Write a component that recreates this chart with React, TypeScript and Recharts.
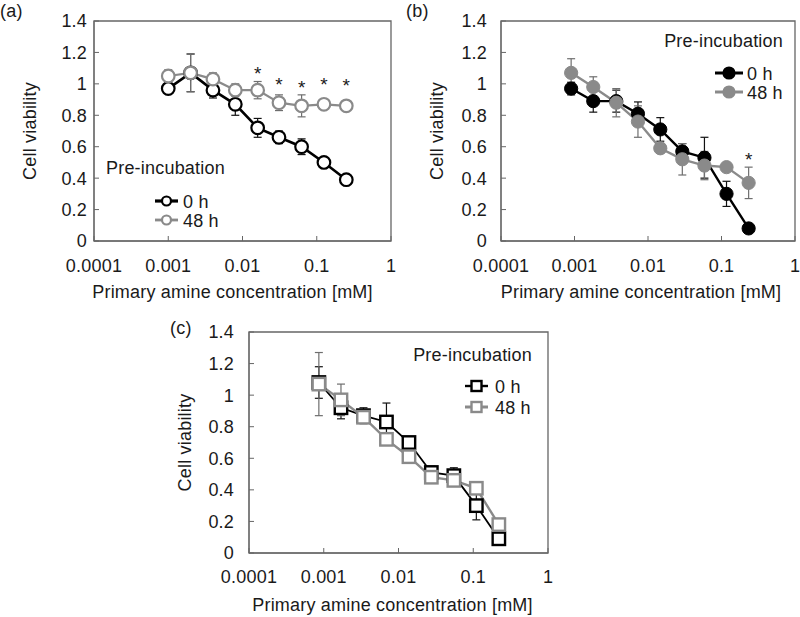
import { LineChart, Line, XAxis, YAxis, ErrorBar, ReferenceArea, Label, Legend } from 'recharts';

// concentrations [mM] for each panel (2-fold dilution series)
const concA = [0.001, 0.002, 0.004, 0.008, 0.016, 0.031, 0.0625, 0.125, 0.25];
const concB = [0.0009, 0.0018, 0.0037, 0.0073, 0.0147, 0.0293, 0.0586, 0.117, 0.234];
const concC = [0.00086, 0.0017, 0.0034, 0.0069, 0.0138, 0.0275, 0.055, 0.11, 0.22];

// (a) open circles
const a0 = [0.97, 1.07, 0.96, 0.87, 0.72, 0.66, 0.6, 0.5, 0.39];
const a0Err = [0.03, 0.12, 0.05, 0.07, 0.06, 0.04, 0.05, 0.01, 0.01];
const a48 = [1.05, 1.07, 1.03, 0.96, 0.96, 0.88, 0.86, 0.87, 0.86];
const a48Err = [0.04, 0.12, 0.04, 0.04, 0.055, 0.05, 0.07, 0.01, 0.03];
const aStars = [null, null, null, null, 1.09, 1.02, 1.0, 1.02, 1.01];

// (b) filled circles
const b0 = [0.97, 0.89, 0.89, 0.81, 0.71, 0.57, 0.53, 0.3, 0.08];
const b0Err = [0.04, 0.07, 0.07, 0.075, 0.075, 0.05, 0.13, 0.08, 0.01];
const b48 = [1.07, 0.98, 0.88, 0.76, 0.59, 0.52, 0.48, 0.47, 0.37];
const b48Err = [0.09, 0.065, 0.09, 0.1, 0.03, 0.1, 0.09, 0.01, 0.1];
const bStars = [null, null, null, null, null, null, null, null, 0.54];

// (c) open squares
const c0 = [1.08, 0.92, 0.87, 0.83, 0.7, 0.51, 0.49, 0.3, 0.09];
const c0Err = [0.1, 0.07, 0.05, 0.12, 0.02, 0.04, 0.05, 0.09, 0.01];
const c48 = [1.07, 0.97, 0.86, 0.72, 0.61, 0.48, 0.46, 0.41, 0.18];
const c48Err = [0.2, 0.1, 0.04, 0.02, 0.02, 0.02, 0.02, 0.02, 0.02];
const cStars = [null, null, null, null, null, null, null, null, null];

const xTicks = [0.0001, 0.001, 0.01, 0.1, 1];
const yTicks = [0, 0.2, 0.4, 0.6, 0.8, 1, 1.2, 1.4];
const seriesNames = ['0 h', '48 h'];

const FONT = '"Liberation Sans", Arial, Helvetica, sans-serif';
const FS = 18;
const LS = 0.2;
const BLACK = '#000000';
const GRAY = '#8a8a8a';
const TEXT = '#1a1a1a';
const AXIS = '#666666';

const marker = (kind: string, color: string, size: number, sw: number) => (props: any) => {
  const { cx, cy, index } = props;
  if (cx == null || cy == null) return <g key={`m-${index}`} />;
  if (kind === 'square') {
    return (
      <rect key={`m-${index}`} x={cx - size} y={cy - size} width={size * 2} height={size * 2}
        fill="#fff" stroke={color} strokeWidth={sw} />
    );
  }
  return (
    <circle key={`m-${index}`} cx={cx} cy={cy} r={size}
      fill={kind === 'filled' ? color : '#fff'} stroke={color} strokeWidth={sw} />
  );
};

const starDot = (props: any) => {
  const { cx, cy, index, payload } = props;
  if (payload.star == null || cy == null) return <g key={`s-${index}`} />;
  return (
    <text key={`s-${index}`} x={cx} y={cy + 10} textAnchor="middle" fontSize={19} fill={TEXT}>*</text>
  );
};

const Panel = ({ cfg }: { cfg: any }) => {
  const data = cfg.conc.map((x: number, i: number) => ({
    x,
    v0: cfg.s0[i],
    e0: cfg.e0[i],
    v48: cfg.s48[i],
    e48: cfg.e48[i],
    star: cfg.stars[i],
  }));
  const lg = cfg.legend;
  const colors = [BLACK, GRAY];
  const widths = [cfg.w0, cfg.w48];

  const legendContent = () => (
    <svg width={cfg.width} height={cfg.height} style={{ pointerEvents: 'none', display: 'block' }}>
      <text x={lg.titleX} y={lg.titleY} textAnchor={lg.titleAnchor} fontSize={FS} letterSpacing={LS} fill={TEXT}>
        Pre-incubation
      </text>
      {seriesNames.map((name, i) => {
        const y = lg.rows[i];
        const mx = (lg.x1 + lg.x2) / 2;
        return (
          <g key={name}>
            <line x1={lg.x1} x2={lg.x2} y1={y} y2={y} stroke={colors[i]} strokeWidth={widths[i] + 0.6} />
            {cfg.kind === 'square' ? (
              <rect x={mx - 5} y={y - 5} width={10} height={10} fill="#fff" stroke={colors[i]} strokeWidth={2.4} />
            ) : (
              <circle cx={mx} cy={y} r={cfg.kind === 'filled' ? 5.5 : 4.5}
                fill={cfg.kind === 'filled' ? colors[i] : '#fff'} stroke={colors[i]} strokeWidth={2.2} />
            )}
            <text x={lg.textX} y={y + 6.5} fontSize={FS} letterSpacing={LS} fill={TEXT}>{name}</text>
          </g>
        );
      })}
    </svg>
  );

  return (
    <div style={{ position: 'absolute', left: cfg.left, top: cfg.top }}>
      <LineChart
        width={cfg.width}
        height={cfg.height}
        data={data}
        margin={{ top: cfg.plotTop, right: cfg.right, bottom: 0, left: 0 }}
      >
        <ReferenceArea x1={0.0001} x2={1} y1={0} y2={1.4} fill="none" stroke={AXIS} strokeWidth={1.3} ifOverflow="visible" />
        <XAxis
          dataKey="x"
          type="number"
          scale="log"
          domain={[0.0001, 1]}
          allowDataOverflow
          ticks={xTicks}
          interval={0}
          height={cfg.xAxisHeight}
          tickSize={-5}
          tickMargin={cfg.xTickMargin}
          stroke={AXIS}
          tick={{ fill: TEXT, fontSize: FS, letterSpacing: LS }}
          tickFormatter={(v: number) => String(v)}
        >
          <Label value="Primary amine concentration [mM]" position="insideBottom" offset={cfg.xTitleOffset}
            dx={cfg.xTitleDx} style={{ fontSize: FS, letterSpacing: LS, fill: TEXT }} />
        </XAxis>
        <YAxis
          type="number"
          domain={[0, 1.4]}
          ticks={yTicks}
          interval={0}
          width={cfg.yAxisWidth}
          tickSize={-5}
          tickMargin={cfg.yTickMargin}
          stroke={AXIS}
          tick={{ fill: TEXT, fontSize: FS, letterSpacing: LS }}
          tickFormatter={(v: number) => String(v)}
        >
          <Label value="Cell viability" angle={-90} position="insideLeft" offset={cfg.yTitleX}
            style={{ textAnchor: 'middle', fontSize: FS, letterSpacing: LS, fill: TEXT }} />
        </YAxis>
        <Legend content={legendContent} layout="horizontal" verticalAlign="middle" align="center"
          wrapperStyle={{ left: 0, top: 0, width: cfg.width, height: cfg.height, pointerEvents: 'none' }} />
        <Line dataKey="v0" stroke={BLACK} strokeWidth={cfg.w0} isAnimationActive={false} activeDot={false}
          dot={marker(cfg.kind, BLACK, cfg.size, cfg.msw)}>
          <ErrorBar dataKey="e0" width={4} stroke="#111" strokeWidth={1.2} isAnimationActive={false} />
        </Line>
        <Line dataKey="v48" stroke={GRAY} strokeWidth={cfg.w48} isAnimationActive={false} activeDot={false}
          dot={marker(cfg.kind, GRAY, cfg.size, cfg.msw)}>
          <ErrorBar dataKey="e48" width={4} stroke="#6e6e6e" strokeWidth={1.2} isAnimationActive={false} />
        </Line>
        <Line dataKey="star" stroke="none" isAnimationActive={false} activeDot={false} dot={starDot} legendType="none" />
      </LineChart>
    </div>
  );
};

const panelA = {
  left: 0, top: 0, width: 400, height: 310, plotTop: 21, right: 9,
  yAxisWidth: 94, xAxisHeight: 69, xTickMargin: 23, yTickMargin: 12,
  xTitleOffset: 12, xTitleDx: -10, yTitleX: 30,
  conc: concA, s0: a0, e0: a0Err, s48: a48, e48: a48Err, stars: aStars,
  kind: 'open', size: 6.3, msw: 2.2, w0: 2.6, w48: 2.2,
  legend: { titleX: 106, titleY: 174, titleAnchor: 'start', x1: 155, x2: 178, textX: 183, rows: [201, 220] },
};

const panelB = {
  left: 400, top: 0, width: 400, height: 310, plotTop: 21, right: 5,
  yAxisWidth: 101, xAxisHeight: 69, xTickMargin: 23, yTickMargin: 19,
  xTitleOffset: 12, xTitleDx: -7, yTitleX: 37,
  conc: concB, s0: b0, e0: b0Err, s48: b48, e48: b48Err, stars: bStars,
  kind: 'filled', size: 6.6, msw: 1, w0: 2.4, w48: 2.4,
  legend: { titleX: 383, titleY: 47, titleAnchor: 'end', x1: 315, x2: 343, textX: 347, rows: [73, 92] },
};

const panelC = {
  left: 160, top: 310, width: 440, height: 307, plotTop: 22, right: 52,
  yAxisWidth: 89, xAxisHeight: 64, xTickMargin: 22, yTickMargin: 20,
  xTitleOffset: 6, xTitleDx: -6, yTitleX: 25,
  conc: concC, s0: c0, e0: c0Err, s48: c48, e48: c48Err, stars: cStars,
  kind: 'square', size: 6.2, msw: 2.4, w0: 1.8, w48: 2.4,
  legend: { titleX: 372, titleY: 51, titleAnchor: 'end', x1: 305, x2: 328, textX: 335, rows: [76, 97] },
};

const panelLabel = (text: string, left: number, top: number) => (
  <div style={{ position: 'absolute', left, top, fontSize: FS, letterSpacing: LS, color: TEXT, lineHeight: '20px' }}>{text}</div>
);

export default function App() {
  return (
    <div style={{ position: 'absolute', left: 0, top: 0, width: 800, height: 617, background: '#fff', fontFamily: FONT, overflow: 'hidden' }}>
      <Panel cfg={panelA} />
      <Panel cfg={panelB} />
      <Panel cfg={panelC} />
      {panelLabel('(a)', 0, 1)}
      {panelLabel('(b)', 406, 1)}
      {panelLabel('(c)', 170, 318)}
    </div>
  );
}
